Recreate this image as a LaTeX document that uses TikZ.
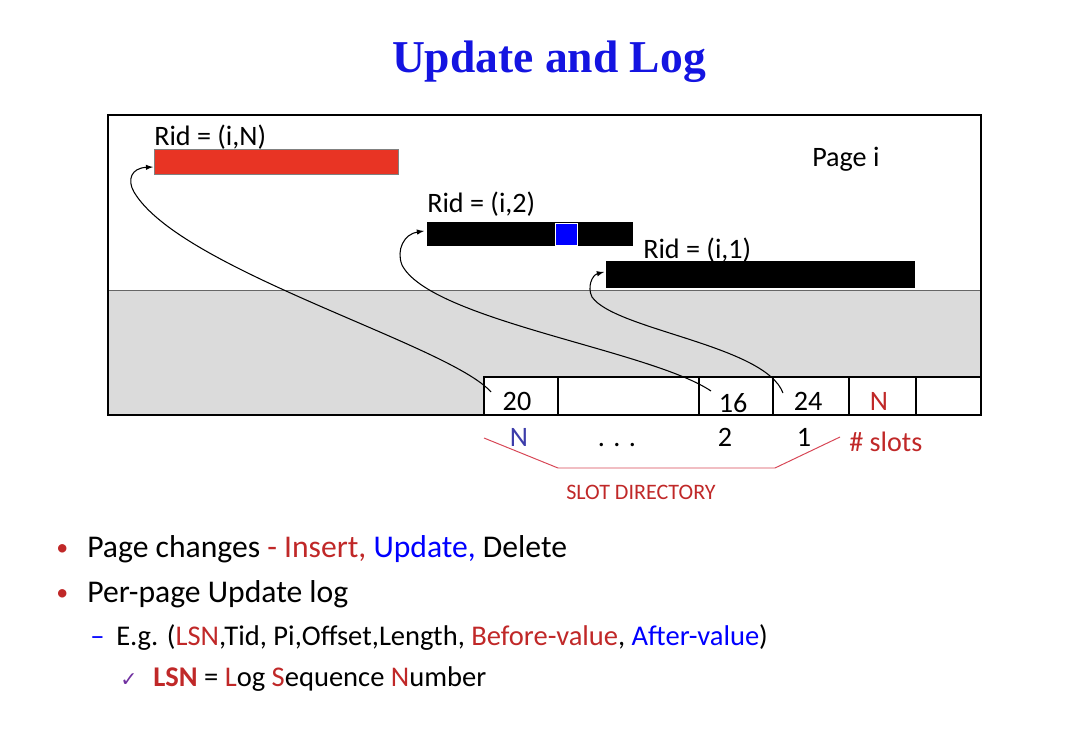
\documentclass[tikz,border=0pt]{standalone}
\usepackage{fontspec}
\setmainfont{Carlito}
\newfontfamily\titlefont{Liberation Serif}
\newfontfamily\symfont{DejaVu Sans}
\usetikzlibrary{arrows}
\usetikzlibrary{math}
\definecolor{titleblue}{RGB}{20,20,225}
\definecolor{recred}{RGB}{232,52,36}
\definecolor{darkred}{RGB}{192,40,40}
\definecolor{updblue}{RGB}{0,0,255}
\definecolor{slotblue}{RGB}{60,60,170}
\definecolor{bracered}{RGB}{215,70,85}
\definecolor{pagegray}{RGB}{219,219,219}
\definecolor{checkpurple}{RGB}{112,48,160}

\tikzset{
  lbl/.style={inner sep=0pt, anchor=base west, font=\fontsize{20}{22}\selectfont},
  num/.style={inner sep=0pt, anchor=base, font=\fontsize{20}{22}\selectfont},
  body/.style={inner sep=0pt, anchor=base west, font=\fontsize{22.5}{25}\selectfont},
  sub/.style={inner sep=0pt, anchor=base west, font=\fontsize{20.3}{23}\selectfont},
  dot/.style={inner sep=0pt, anchor=base west, font=\fontsize{17}{20}\selectfont, text=darkred},
  ptr/.style={-latex, line width=0.75pt},
}

\begin{document}
\begin{tikzpicture}[x=0.025cm,y=-0.025cm]
\tikzmath{
\L=108;
\R=981;
\T=115;
\B=415;
\G=290;
\S=377;
}
\useasboundingbox (0,0) rectangle (1088,738);
%title
\node[inner sep=0pt, anchor=base, font=\titlefont\bfseries\fontsize{32.4}{34}\selectfont, text=titleblue] (title) at (549,72) {Update and Log};

%page
\fill[pagegray] (\L,\G) rectangle (\R,\B);
\draw[black!60, line width=0.5pt] (\L,\G) -- (\R,\G);
\draw[line width=1.6pt] (\L,\T) rectangle (\R,\B);
\node[lbl] (pagei) at (812,166) {Page i};

%slot directory
\foreach \a/\b in {484/558, 558/699, 699/773, 773/849, 849/916, 916/981}
  \draw[fill=white, line width=1.1pt] (\a,\S) rectangle (\b,\B);
\draw[line width=1.6pt] (699,\S) rectangle (773,\B);
\node[num] (off20) at (517,410) {20};
\node[num] (off16) at (733,412) {16};
\node[num] (off24) at (808,410) {24};
\node[num, text=darkred] (cnt) at (879,410) {N};

%records
\draw[fill=recred, draw=black!50, line width=0.4pt] (154,149) rectangle (398,174);
\fill (427,222) rectangle (633,246);
\draw[fill=updblue, draw=white, line width=0.4pt] (555,223) rectangle (577,245);
\fill (606,261) rectangle (915,288);
\node[lbl] (ridN) at (154,145) {Rid = (i,N)};
\node[lbl] (rid2) at (427,212) {Rid = (i,2)};
\node[lbl] (rid1) at (643,258) {Rid = (i,1)};

\coordinate (recN) at (153,167);
\coordinate (rec2) at (424,231);
\coordinate (rec1) at (604,272);
\coordinate (slot20) at (491,392);
\coordinate (slot16) at (711,391);
\coordinate (slot24) at (783,393);

%pointers
\draw[ptr] (slot20) .. controls (450,345) and (180,270) .. (134,192) .. controls (127,180) and (131,168) .. (recN);
\draw[ptr] (slot16) .. controls (650,350) and (430,320) .. (402,265) .. controls (396,250) and (404,234) .. (rec2);
\draw[ptr] (slot24) .. controls (765,345) and (615,330) .. (592,297) .. controls (587,287) and (592,275) .. (rec1);

%slot numbers
\node[num, text=slotblue] (idxN) at (519,446) {N};
\node[num] (dots) at (617,446) {. . .};
\node[num] (idx2) at (725,446) {2};
\node[num] (idx1) at (804,446) {1};
\node[lbl, text=darkred] (nslots) at (849,451) {\# slots};
\draw[bracered, line width=0.7pt] (484,438) -- (558,468) -- (775,468) -- (840,437);
\node[inner sep=0pt, anchor=base, font=\fontsize{15.7}{18}\selectfont, text=darkred] (sdir) at (641,499) {SLOT DIRECTORY};

%bullets
\node[dot] (b1) at (56,555) {•};
\node[body] (l1) at (87,557) {Page changes {\color{darkred}- Insert,} {\color{updblue}Update,} Delete};
\node[dot] (b2) at (56,600) {•};
\node[body] (l2) at (87,602) {Per-page Update log};
\node[sub, text=updblue] (d3) at (90,645) {–};
\node[sub] (l3) at (116,645) {E.g. ({\color{darkred}LSN},Tid, Pi,Offset,Length, {\color{darkred}Before-value}, {\color{updblue}After-value})};
\node[inner sep=0pt, anchor=base west, font=\symfont\fontsize{14.5}{16}\selectfont, text=checkpurple] (c4) at (120,686) {✓};
\node[sub] (l4) at (153,686) {{\bfseries\color{darkred}LSN} = {\color{darkred}L}og {\color{darkred}S}equence {\color{darkred}N}umber};
\end{tikzpicture}
\end{document}
